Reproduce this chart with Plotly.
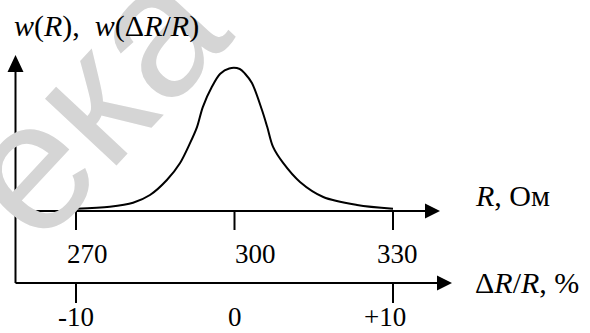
import plotly.graph_objects as go

# ---- data ----
R_ohm = [270.0, 276.4, 280.8, 284.0, 287.2, 289.7, 291.6, 292.9, 294.0, 295.7,
         297.3, 299.0, 301.0, 302.0, 303.3, 305.2, 306.2, 307.3, 309.2,
         312.4, 316.8, 323.2, 330.0]
w_R = [0.015, 0.030, 0.058, 0.112, 0.217, 0.336, 0.476, 0.587, 0.727, 0.867,
       0.960, 0.997, 0.993, 0.960, 0.895, 0.706, 0.587, 0.448, 0.336,
       0.203, 0.098, 0.042, 0.015]

R_ticks = [270, 300, 330]
R_tick_labels = ["270", "300", "330"]
dR_ticks = [-10, 0, 10]
dR_tick_labels = ["-10", "0", "+10"]
R_nominal = 300

W, H = 590, 333
# pixel layout of the drawing
PX_PER_OHM = (393 - 76) / 60.0
X_270 = 76.0
Y_AXIS_R = 211.0
Y_PEAK = 68.0
R0 = 270 - X_270 / PX_PER_OHM
R1 = R0 + W / PX_PER_OHM
W_UNIT = Y_AXIS_R - Y_PEAK
y_lo = (Y_AXIS_R - H) / W_UNIT
y_hi = Y_AXIS_R / W_UNIT


def X(px):
    return R0 + px / PX_PER_OHM


def Y(py):
    return (Y_AXIS_R - py) / W_UNIT


def pct_to_R(p):
    return R_nominal * (1 + p / 100.0)


fig = go.Figure()
fig.add_trace(go.Scatter(x=R_ohm, y=w_R, mode="lines",
                         line=dict(color="black", width=2, shape="spline", smoothing=0.9),
                         hoverinfo="skip", showlegend=False))

LW = 2
shapes = []
x_v = X(15.5)
y_low = 283.0
# vertical axis
shapes.append(dict(type="line", x0=x_v, x1=x_v, y0=Y(y_low), y1=Y(70), line=dict(color="black", width=LW)))
shapes.append(dict(type="path", path=f"M {X(7.5)} {Y(72)} L {X(15.5)} {Y(55)} L {X(23.5)} {Y(72)} Z",
                   fillcolor="black", line=dict(color="black", width=0)))
# R axis
shapes.append(dict(type="line", x0=x_v, x1=X(427), y0=0, y1=0, line=dict(color="black", width=LW)))
shapes.append(dict(type="path", path=f"M {X(425)} {Y(203.5)} L {X(440)} {Y(211)} L {X(425)} {Y(218.5)} Z",
                   fillcolor="black", line=dict(color="black", width=0)))
# dR/R axis
shapes.append(dict(type="line", x0=x_v, x1=X(439), y0=Y(y_low), y1=Y(y_low), line=dict(color="black", width=LW)))
shapes.append(dict(type="path", path=f"M {X(437)} {Y(275.5)} L {X(452)} {Y(283)} L {X(437)} {Y(290.5)} Z",
                   fillcolor="black", line=dict(color="black", width=0)))
# ticks
for t in R_ticks:
    shapes.append(dict(type="line", x0=t, x1=t, y0=0, y1=Y(230), line=dict(color="black", width=LW)))
for p in dR_ticks:
    if p != 0:
        r = pct_to_R(p)
        shapes.append(dict(type="line", x0=r, x1=r, y0=Y(y_low), y1=Y(303), line=dict(color="black", width=LW)))

FONT = dict(family="Liberation Serif", size=27, color="black")
LFONT = dict(family="Liberation Serif", size=30, color="black")
ann = []
# watermark
ann.append(dict(text="ека", x=90 / W, y=1 - 100 / H, xref="paper", yref="paper", showarrow=False,
                textangle=-47, font=dict(family="Liberation Sans", size=185, color="#d5d5d5"),
                xanchor="center", yanchor="middle"))

label_dx = {270: 11, 300: 21, 330: 4}
for t, lab in zip(R_ticks, R_tick_labels):
    ann.append(dict(text=lab, x=X(X_270 + (t - 270) * PX_PER_OHM + label_dx[t]), y=Y(254), xref="x", yref="y",
                    showarrow=False, font=FONT, xanchor="center", yanchor="middle"))
dlabel_dx = {-10: 0, 0: 0, 10: -8}
for p, lab in zip(dR_ticks, dR_tick_labels):
    ann.append(dict(text=lab, x=pct_to_R(p) + dlabel_dx[p] / PX_PER_OHM, y=Y(333), xref="x", yref="y",
                    showarrow=False, font=FONT, xanchor="center", yanchor="bottom", borderpad=0))

ann.append(dict(text="<i>w</i>(<i>R</i>),\u00a0\u00a0<i>w</i>(Δ<i>R</i>/<i>R</i>)", x=X(12), y=Y(26),
                xref="x", yref="y", showarrow=False, font=LFONT, xanchor="left", yanchor="middle"))
ann.append(dict(text="<i>R</i>, Ом", x=X(473), y=Y(195), xref="x", yref="y", showarrow=False,
                font=LFONT, xanchor="left", yanchor="middle"))
ann.append(dict(text="Δ<i>R</i>/<i>R</i>, %", x=X(473), y=Y(282), xref="x", yref="y", showarrow=False,
                font=LFONT, xanchor="left", yanchor="middle"))

fig.update_layout(
    width=W, height=H, margin=dict(l=0, r=0, t=0, b=0),
    paper_bgcolor="white", plot_bgcolor="white",
    xaxis=dict(range=[R0, R1], visible=False, fixedrange=True),
    yaxis=dict(range=[y_lo, y_hi], visible=False, fixedrange=True),
    shapes=shapes, annotations=ann, showlegend=False,
)
fig.write_html("out.html", config={"displayModeBar": False},
               post_script="document.body.style.margin='0';document.body.style.overflow='hidden';")
